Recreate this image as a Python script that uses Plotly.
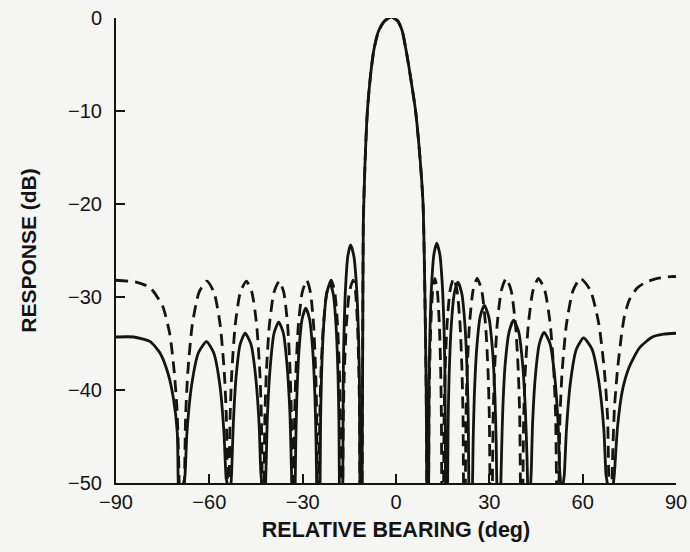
import plotly.graph_objects as go

# ---- data (deg, dB) ----
solid_deg = [
    -90, -84.3, -79, -75.9, -73.3, -71.5, -70.3, -70.0, -69.2,
    -68.3, -67.9, -67.2, -65.7, -63.5, -60.9, -58.6, -56.6, -55.3, -54.6, -54.3,
    -53.65, -53.0, -52.8, -52.3, -51.4, -50.1, -48.5, -46.6, -45.1, -44.0, -43.5, -43.2,
    -42.55, -41.9, -41.7, -41.3, -40.4, -39.2, -37.7, -36.2, -35.0, -34.1, -33.7, -33.5,
    -32.95, -32.4, -32.23, -31.89, -31.21, -30.19, -29.0, -27.78, -26.73, -26.03, -25.68, -25.5,
    -24.95, -24.4, -24.24, -23.92, -23.28, -22.32, -21.2, -20.15, -19.25, -18.65, -18.35, -18.2,
    -17.65, -17.1, -16.98, -16.73, -16.23, -15.48, -14.6, -13.55, -12.65, -12.05, -11.75, -11.6,
    -11.25, -10.9, -10.7, -10.5, -10.0, -9.2, -8.2, -7.1, -5.6, -3.6, -1.5, 0.5, 2.0, 3.2, 4.6,
    6.3, 7.7, 8.7, 9.3, 9.7, 9.9,
    10.2, 10.5, 10.63, 10.89, 11.41, 12.19, 13.1, 14.08, 14.92, 15.48, 15.76, 15.9,
    16.25, 16.6, 16.77, 17.1, 17.76, 18.75, 19.9, 21.13, 22.18, 22.88, 23.23, 23.4,
    24.0, 24.6, 24.79, 25.17, 25.93, 27.07, 28.4, 29.8, 31.0, 31.8, 32.2, 32.4,
    33.05, 33.7, 33.9, 34.3, 35.1, 36.4, 37.8, 39.4, 40.7, 41.6, 42.1, 42.3,
    42.8, 43.3, 43.5, 43.9, 44.8, 46.1, 47.6, 49.5, 51.0, 52.1, 52.6, 52.9,
    53.35, 53.8, 54.1, 54.8, 56.1, 58.0, 60.3, 63.0, 65.2, 66.8, 67.5, 67.9,
    68.9, 69.9, 70.2, 71.2, 72.8, 75.0, 78.2, 82.4, 86.0, 90.0,
]
solid_db = [
    -34.3, -34.3, -34.8, -36.0, -38.2, -41.0, -44.6, -50, -58,
    -50, -49.5, -44.6, -39.5, -36.0, -34.8, -36.0, -39.5, -44.6, -49.5, -50,
    -58, -50, -48.6, -43.7, -38.6, -35.1, -33.9, -35.1, -38.6, -43.7, -48.6, -50,
    -58, -50, -47.4, -42.5, -37.4, -33.9, -32.7, -33.9, -37.4, -42.5, -47.4, -50,
    -58, -50, -45.9, -41.0, -35.9, -32.4, -31.2, -32.4, -35.9, -41.0, -45.9, -50,
    -58, -50, -43.2, -38.3, -33.2, -29.7, -28.5, -29.7, -33.2, -38.3, -43.2, -50,
    -58, -50, -39.1, -34.2, -29.1, -25.6, -24.4, -25.6, -29.1, -34.2, -39.1, -50,
    -58, -50, -35, -22, -16, -10, -6.2, -3.4, -1.4, -0.3, 0.1, -0.3, -1.4, -3.4, -6.2,
    -10, -15, -20, -30, -40, -50,
    -58, -50, -38.9, -34.0, -28.9, -25.4, -24.2, -25.4, -28.9, -34.0, -38.9, -50,
    -58, -50, -43.1, -38.2, -33.1, -29.6, -28.4, -29.6, -33.1, -38.2, -43.1, -50,
    -58, -50, -45.6, -40.7, -35.6, -32.1, -30.9, -32.1, -35.6, -40.7, -45.6, -50,
    -58, -50, -47.2, -42.3, -37.2, -33.7, -32.5, -33.7, -37.2, -42.3, -47.2, -50,
    -58, -50, -48.5, -43.6, -38.5, -35.0, -33.8, -35.0, -38.5, -43.6, -48.5, -50,
    -58, -50, -49.1, -44.2, -39.1, -35.6, -34.4, -35.6, -39.1, -44.2, -49.1, -50,
    -58, -50, -49.0, -44.0, -40.0, -37.5, -35.5, -34.3, -34.0, -33.9,
]

dashed_deg = [
    -90, -83.5, -79, -75, -72.7, -71.3, -70.4, -69.9, -69.7, -68.9,
    -68.0, -67.64, -66.92, -65.48, -63.32, -60.8, -58.49, -56.51, -55.19, -54.53, -54.2,
    -53.9, -53.6, -53.33, -52.78, -51.68, -50.03, -48.1, -46.32, -44.79, -43.77, -43.26, -43.0,
    -42.7, -42.4, -42.16, -41.67, -40.69, -39.22, -37.5, -36.07, -34.84, -34.02, -33.61, -33.4,
    -33.1, -32.8, -32.6, -32.19, -31.37, -30.14, -28.7, -27.51, -26.49, -25.81, -25.47, -25.3,
    -25.0, -24.7, -24.51, -24.12, -23.34, -22.17, -20.8, -19.72, -18.79, -18.17, -17.86, -17.7,
    -17.4, -17.1, -16.94, -16.61, -15.95, -14.96, -13.8, -13.03, -12.37, -11.93, -11.71, -11.6,
    -11.25, -10.9, -10.7, -10.5, -10.0, -9.2, -8.2, -7.1, -5.6, -3.6, -1.5, 0.5, 2.0, 3.2, 4.6,
    6.3, 7.7, 8.7, 9.3, 9.7, 9.9,
    10.2, 10.5, 10.6, 10.8, 11.2, 11.8, 12.5, 13.27, 13.93, 14.37, 14.59, 14.7,
    15.0, 15.3, 15.46, 15.78, 16.42, 17.38, 18.5, 19.62, 20.58, 21.22, 21.54, 21.7,
    22.0, 22.3, 22.49, 22.87, 23.63, 24.77, 26.1, 27.54, 28.77, 29.59, 30.0, 30.2,
    30.6, 31.0, 31.22, 31.66, 32.54, 33.86, 35.4, 37.01, 38.39, 39.31, 39.77, 40.0,
    40.4, 40.8, 41.05, 41.55, 42.55, 44.05, 45.8, 47.83, 49.57, 50.73, 51.31, 51.6,
    52.0, 52.4, 52.7, 53.4, 54.8, 56.9, 59.3, 62.5, 65.2, 67.0, 68.0, 68.4,
    68.9, 69.4, 69.6, 70.2, 71.2, 72.4, 73.4, 75.0, 77.6, 80.4, 84.0, 88.5, 90.0,
]
dashed_db = [
    -28.2, -28.4, -29.0, -31.0, -34.0, -38.0, -42.0, -47.0, -50, -58,
    -50, -43.0, -38.1, -33.0, -29.5, -28.3, -29.5, -33.0, -38.1, -43.0, -50,
    -58, -50, -43.0, -38.1, -33.0, -29.5, -28.3, -29.5, -33.0, -38.1, -43.0, -50,
    -58, -50, -43.0, -38.1, -33.0, -29.5, -28.3, -29.5, -33.0, -38.1, -43.0, -50,
    -58, -50, -43.0, -38.1, -33.0, -29.5, -28.2, -29.5, -33.0, -38.1, -43.0, -50,
    -58, -50, -43.0, -38.1, -33.0, -29.4, -28.2, -29.4, -33.0, -38.1, -43.0, -50,
    -58, -50, -43.0, -38.1, -33.0, -29.4, -28.2, -29.4, -33.0, -38.1, -43.0, -50,
    -58, -50, -35, -22, -16, -10, -6.2, -3.4, -1.4, -0.3, 0.1, -0.3, -1.4, -3.4, -6.2,
    -10, -15, -20, -30, -40, -50,
    -58, -50, -42.9, -38.0, -32.9, -29.3, -28.0, -29.3, -32.9, -38.0, -42.9, -50,
    -58, -50, -42.9, -38.0, -32.9, -29.3, -28.0, -29.3, -32.9, -38.0, -42.9, -50,
    -58, -50, -42.9, -38.0, -32.9, -29.3, -28.0, -29.3, -32.9, -38.0, -42.9, -50,
    -58, -50, -42.9, -38.0, -32.9, -29.3, -28.0, -29.3, -32.9, -38.0, -42.9, -50,
    -58, -50, -42.9, -38.0, -32.9, -29.3, -28.0, -29.3, -32.9, -38.0, -42.9, -50,
    -58, -50, -42.9, -38.0, -32.9, -29.3, -28.0, -29.3, -32.9, -38.0, -42.9, -50,
    -58, -50, -47.5, -42.0, -37.8, -34.3, -32.1, -30.3, -29.0, -28.4, -28.0, -27.8, -27.8,
]

x_tickvals = [-90, -60, -30, 0, 30, 60, 90]
y_tickvals = [0, -10, -20, -30, -40, -50]

ink = "#141414"
font_family = "Liberation Sans, Arial, sans-serif"

fig = go.Figure()
fig.add_trace(go.Scatter(
    x=dashed_deg, y=dashed_db, mode="lines",
    line=dict(color=ink, width=2.8, dash="12px,7px", shape="spline", smoothing=0.6),
    showlegend=False, hoverinfo="skip",
))
fig.add_trace(go.Scatter(
    x=solid_deg, y=solid_db, mode="lines",
    line=dict(color=ink, width=2.8, shape="spline", smoothing=0.6),
    showlegend=False, hoverinfo="skip",
))

fig.update_layout(
    width=690, height=552,
    margin=dict(l=116, r=14, t=18, b=69),
    paper_bgcolor="#f5f5f3", plot_bgcolor="#f5f5f3",
    font=dict(family=font_family, color=ink, size=20),
    showlegend=False,
)
fig.update_xaxes(
    range=[-90, 90], tickvals=x_tickvals, automargin=False,
    ticks="inside", ticklen=9, tickwidth=2, tickcolor=ink,
    showline=True, linewidth=2, linecolor=ink,
    showgrid=False, zeroline=False,
    tickfont=dict(size=20),
    title=dict(text="<b>RELATIVE BEARING (deg)</b>", font=dict(size=21.5), standoff=10),
)
fig.update_yaxes(
    range=[-50, 0], tickvals=y_tickvals, automargin=False,
    ticks="inside", ticklen=9, tickwidth=2, tickcolor=ink,
    showline=True, linewidth=2, linecolor=ink,
    showgrid=False, zeroline=False,
    tickfont=dict(size=20), ticklabelstandoff=8,
    title=dict(text="<b>RESPONSE (dB)</b>", font=dict(size=21), standoff=26),
)

fig.write_html("out.html")
